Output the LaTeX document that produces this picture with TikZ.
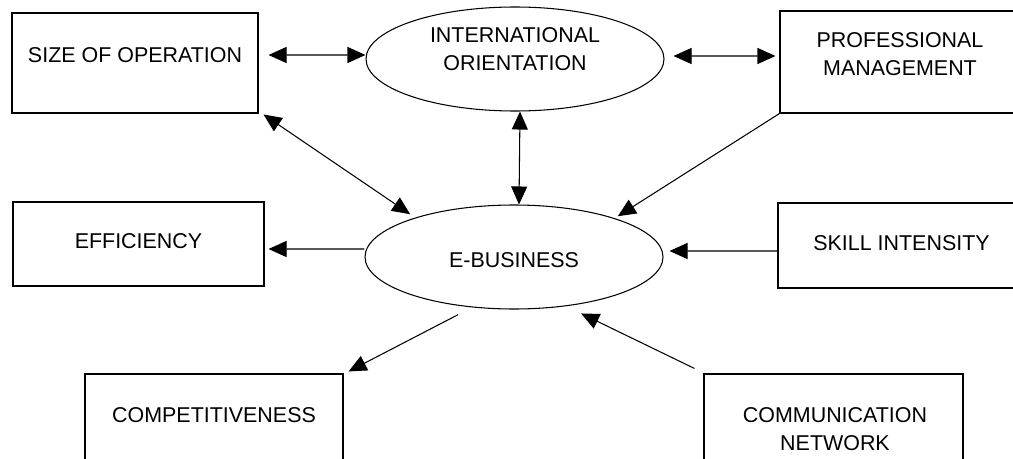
\documentclass[tikz,border=0pt]{standalone}
\usepackage{fontspec}
\setmainfont{Liberation Sans}
\usetikzlibrary{arrows.meta,shapes.geometric}

\begin{document}
\begin{tikzpicture}[
    font=\fontsize{12.2}{15.9}\selectfont,
    line width=0.6pt,
    >={Triangle[length=3.6mm, width=3.2mm]},
    box/.style={draw, rectangle, inner sep=0pt},
    oval/.style={draw, ellipse, inner sep=0pt,
                 minimum width=5.96cm, minimum height=2.08cm},
    lbl/.style={align=center, inner sep=0pt},
    arr/.style={->},
    dbl/.style={<->},
]

%% -- frame: the outer boxes run past the page edge ---------------------------
\useasboundingbox (0,0) rectangle (20.26,-9.18);
\fill[white] (0,0) rectangle (20.26,-9.18);
\clip (0,0) rectangle (20.26,-9.18);

%% -- shapes ------------------------------------------------------------------
\node[box, minimum width=4.92cm, minimum height=2.00cm] (size)   at ( 2.70,-1.26) {};
\node[oval]                                             (intl)   at (10.30,-1.18) {};
\node[box, minimum width=4.80cm, minimum height=2.04cm] (prof)   at (18.00,-1.24) {};
\node[box, minimum width=5.02cm, minimum height=1.68cm] (eff)    at ( 2.77,-4.88) {};
\node[oval]                                             (ebiz)   at (10.28,-5.14) {};
\node[box, minimum width=4.94cm, minimum height=1.70cm] (skill)  at (18.03,-4.91) {};
\node[box, minimum width=5.16cm, minimum height=1.80cm] (compet) at ( 4.28,-8.38) {};
\node[box, minimum width=5.18cm, minimum height=2.20cm] (comm)   at (16.67,-8.58) {};

%% -- texts -------------------------------------------------------------------
\node[lbl] (sizeT)   at ([yshift=1.6mm]size.center)   {SIZE OF OPERATION};
\node[lbl] (intlT)   at ([yshift=1.9mm]intl.center)   {INTERNATIONAL\\ORIENTATION};
\node[lbl] (profT)   at ([yshift=1.55mm]prof.center)  {PROFESSIONAL\\MANAGEMENT};
\node[lbl] (effT)    at ([yshift=0.6mm]eff.center)    {EFFICIENCY};
\node[lbl] (ebizT)   at ([yshift=-0.6mm]ebiz.center)  {E-BUSINESS};
\node[lbl] (skillT)  at ([yshift=0.4mm]skill.center)  {SKILL INTENSITY};
\node[lbl] (competT) at ([yshift=0.7mm]compet.center) {COMPETITIVENESS};
\node[lbl] (commT)   at ([xshift=0.3mm]comm.center)   {COMMUNICATION\\NETWORK};

%% -- top row links -----------------------------------------------------------
\draw[dbl] ([xshift=2mm,yshift=1.6mm]size.east) -- ([yshift=0.8mm]intl.west);
\draw[dbl] ([xshift=1.8mm,yshift=0.6mm]intl.east) -- ([xshift=-0.8mm,yshift=1.2mm]prof.west);

%% -- into / out of e-business ------------------------------------------------
\draw[dbl] ([xshift=1mm,yshift=-0.2mm]size.south east) -- ([yshift=1mm]ebiz.160);
\draw[dbl] ([xshift=1mm]intl.south) -- ([xshift=1mm]ebiz.north);
\draw[arr] (prof.south west) -- ([yshift=0.6mm]ebiz.20);
\draw[arr] ([yshift=1.6mm]ebiz.west) -- ([xshift=0.8mm,yshift=-1mm]eff.east);
\draw[arr] ([yshift=-1.1mm]skill.west) -- ([xshift=1.2mm,yshift=1.2mm]ebiz.east);
\draw[arr] ([yshift=-1.8mm]ebiz.221) -- ([xshift=1mm,yshift=0.4mm]compet.north east);
\draw[arr] ([xshift=-1.8mm,yshift=1mm]comm.north west) -- ([yshift=-1.9mm]ebiz.-35);

\end{tikzpicture}
\end{document}
